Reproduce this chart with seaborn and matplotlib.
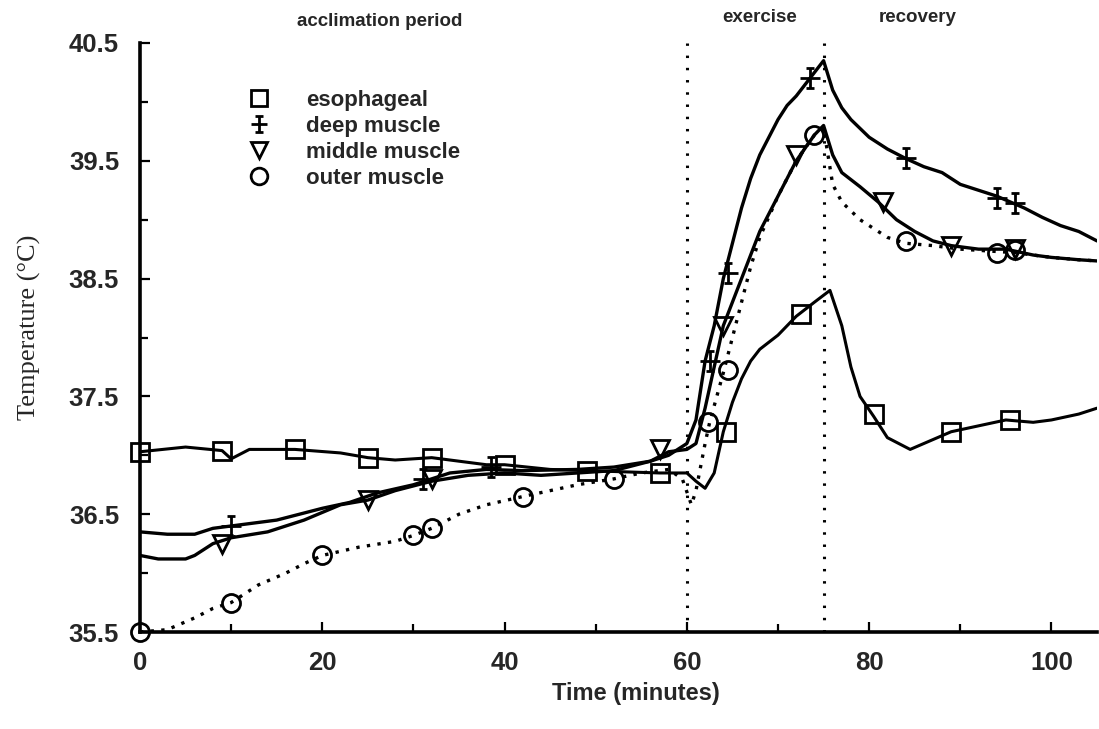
import numpy as np
import pandas as pd
import matplotlib
matplotlib.use("Agg")
import matplotlib.pyplot as plt
from matplotlib.path import Path
from matplotlib.lines import Line2D
import seaborn as sns

# ---------------- data ----------------
eso_t = [0, 5, 9, 10, 12, 17, 22, 25, 28, 32, 35, 38, 40, 45, 49, 53, 57, 60, 61, 62,
         63, 64, 65, 66, 67, 68, 70, 72, 74, 75.7, 77, 78, 79, 80.5, 82, 84.5, 86, 89,
         92, 95, 98, 100, 103, 105]
eso_v = [37.03, 37.07, 37.04, 36.97, 37.05, 37.05, 37.02, 36.98, 36.96, 36.98, 36.95,
         36.92, 36.92, 36.88, 36.87, 36.86, 36.85, 36.85, 36.78, 36.72, 36.85, 37.2,
         37.45, 37.65, 37.8, 37.9, 38.02, 38.18, 38.3, 38.4, 38.1, 37.75, 37.5, 37.33,
         37.15, 37.05, 37.1, 37.2, 37.25, 37.3, 37.28, 37.3, 37.35, 37.4]

deep_t = [0, 3, 6, 8, 10, 12, 15, 20, 23, 26, 30, 34, 38, 42, 48, 52, 56, 58, 60, 61,
          62, 63, 64, 65, 66, 67, 68, 69, 70, 71, 72, 73, 74, 75, 76, 77, 78, 80, 82,
          84, 86, 88, 90, 92, 94, 97, 99, 101, 103, 105]
deep_v = [36.35, 36.33, 36.33, 36.38, 36.4, 36.42, 36.45, 36.55, 36.6, 36.68, 36.75,
          36.85, 36.88, 36.87, 36.88, 36.9, 36.95, 37.0, 37.1, 37.3, 37.8, 38.1, 38.5,
          38.8, 39.1, 39.35, 39.55, 39.7, 39.85, 39.97, 40.05, 40.15, 40.25, 40.35,
          40.1, 39.95, 39.85, 39.7, 39.6, 39.52, 39.45, 39.4, 39.3, 39.25, 39.2, 39.1,
          39.02, 38.95, 38.9, 38.82]

mid_t = [0, 2, 5, 6, 8, 10, 14, 18, 22, 25, 28, 32, 36, 40, 44, 48, 52, 56, 58, 60,
         61, 62, 63, 64, 65, 66, 67, 68, 70, 72, 74, 75, 76, 77, 79, 81, 83, 85, 87,
         89, 92, 95, 98, 100, 103, 105]
mid_v = [36.15, 36.12, 36.12, 36.15, 36.25, 36.3, 36.35, 36.45, 36.58, 36.62, 36.7,
         36.78, 36.83, 36.85, 36.83, 36.85, 36.87, 36.95, 37.03, 37.05, 37.1, 37.4,
         37.75, 38.1, 38.3, 38.5, 38.7, 38.9, 39.2, 39.5, 39.72, 39.8, 39.55, 39.4,
         39.28, 39.15, 39.0, 38.9, 38.82, 38.78, 38.75, 38.75, 38.7, 38.68, 38.66, 38.65]

out_t = [0, 3, 6, 8, 10, 13, 16, 18, 20, 24, 28, 30, 32, 35, 38, 42, 45, 48, 52, 55,
         58, 59.5, 60.5, 61, 62, 62.5, 64, 65, 66, 67, 68, 70, 72, 74, 75, 76, 77, 79,
         82, 84, 87, 90, 94, 96, 100, 103, 105]
out_v = [35.5, 35.52, 35.62, 35.7, 35.75, 35.9, 36.0, 36.08, 36.15, 36.22, 36.27,
         36.32, 36.38, 36.5, 36.58, 36.65, 36.7, 36.75, 36.8, 36.85, 36.88, 36.8, 36.58,
         36.7, 37.1, 37.28, 37.7, 38.0, 38.3, 38.6, 38.85, 39.2, 39.5, 39.72, 39.78,
         39.3, 39.15, 39.0, 38.85, 38.8, 38.78, 38.75, 38.73, 38.72, 38.68, 38.66, 38.65]

# marker positions along each curve
eso_mt = [0, 9, 17, 25, 32, 40, 49, 57, 64.3, 72.5, 80.5, 89, 95.5]
eso_mv = [37.03, 37.04, 37.05, 36.98, 36.98, 36.92, 36.87, 36.85, 37.2, 38.2, 37.35, 37.2, 37.3]
deep_mt = [10, 31, 38.5, 62.5, 64.5, 73.5, 84, 94, 96]
deep_mv = [36.4, 36.8, 36.9, 37.8, 38.55, 40.2, 39.52, 39.18, 39.14]
mid_mt = [9, 25, 32, 57, 64, 72, 81.5, 89, 96]
mid_mv = [36.25, 36.62, 36.8, 37.05, 38.1, 39.55, 39.15, 38.78, 38.75]
out_mt = [0, 10, 20, 30, 32, 42, 52, 62.3, 64.5, 74, 84, 94, 96]
out_mv = [35.5, 35.75, 36.15, 36.32, 36.38, 36.65, 36.8, 37.28, 37.72, 39.72, 38.82, 38.72, 38.74]

series_names = ["esophageal", "deep muscle", "middle muscle", "outer muscle"]
phase_lines = [60, 75]
phase_labels = ["acclimation period", "exercise", "recovery"]
x_ticks = [0, 20, 40, 60, 80, 100]
y_ticks = [35.5, 36.5, 37.5, 38.5, 39.5, 40.5]

# ---------------- styling ----------------
sns.set_theme(style="ticks")
plt.rcParams["font.family"] = ["Liberation Sans", "DejaVu Sans"]

# custom "cross with serifs" marker for deep muscle
cross_path = Path(
    [(-1, 0), (1, 0), (0, -1), (0, 1), (-0.45, 1), (0.45, 1), (-0.45, -1), (0.45, -1)],
    [Path.MOVETO, Path.LINETO, Path.MOVETO, Path.LINETO,
     Path.MOVETO, Path.LINETO, Path.MOVETO, Path.LINETO])

fig = plt.figure(figsize=(10.99, 7.29), dpi=100)
ax = fig.add_axes([140 / 1099, 1 - 632 / 729, (1097 - 140) / 1099, (632 - 43) / 729])

df_eso = pd.DataFrame({"t": eso_t, "v": eso_v})
df_deep = pd.DataFrame({"t": deep_t, "v": deep_v})
df_mid = pd.DataFrame({"t": mid_t, "v": mid_v})
df_out = pd.DataFrame({"t": out_t, "v": out_v})

sns.lineplot(data=df_eso, x="t", y="v", ax=ax, color="black", lw=2.2, sort=False)
sns.lineplot(data=df_deep, x="t", y="v", ax=ax, color="black", lw=2.4, sort=False)
sns.lineplot(data=df_mid, x="t", y="v", ax=ax, color="black", lw=2.4, sort=False)
sns.lineplot(data=df_out, x="t", y="v", ax=ax, color="black", lw=2.4,
             linestyle=(0, (1, 2.2)), sort=False)

mk_kw = dict(color="black", linestyle="none", markerfacecolor="none",
             markeredgecolor="black", markeredgewidth=2.0, clip_on=False, zorder=5)
ax.plot(eso_mt, eso_mv, marker="s", markersize=13, **mk_kw)
ax.plot(deep_mt, deep_mv, marker=cross_path, markersize=14, **mk_kw)
ax.plot(mid_mt, mid_mv, marker="v", markersize=13, **mk_kw)
ax.plot(out_mt, out_mv, marker="o", markersize=13, **mk_kw)

for xv in phase_lines:
    ax.axvline(xv, color="black", lw=2.2, linestyle=(0, (0.8, 3.2)), zorder=1)

ax.set_xlim(0, 105)
ax.set_ylim(35.5, 40.5)
ax.set_xticks(x_ticks)
ax.set_xticks([10, 30, 50, 70, 90], minor=True)
ax.set_yticks(y_ticks)
ax.set_yticks([36.0, 37.0, 38.0, 39.0, 40.0], minor=True)
ax.set_xticklabels([str(v) for v in x_ticks])
ax.set_yticklabels([f"{v:.1f}" for v in y_ticks])
ax.tick_params(axis="both", which="both", direction="in", width=1.6, color="black",
               labelsize=18.5)
ax.tick_params(axis="y", pad=15)
ax.tick_params(axis="x", pad=14)
ax.tick_params(which="major", length=7)
ax.tick_params(which="minor", length=6)
for lab in ax.get_xticklabels() + ax.get_yticklabels():
    lab.set_fontweight("bold")
for side in ["top", "right"]:
    ax.spines[side].set_visible(False)
for side in ["left", "bottom"]:
    ax.spines[side].set_linewidth(2.6)
    ax.spines[side].set_color("black")

ax.set_xlabel("Time (minutes)", fontsize=17, fontweight="bold")
ax.xaxis.set_label_coords((636 - 140) / 957, -0.085)
ax.set_ylabel("Temperature (°C)", fontsize=19, family=["Liberation Serif", "DejaVu Serif"])
ax.yaxis.set_label_coords(-0.103, (632 - 327) / 589)

# phase labels above the plot
fig.text(380 / 1099, 1 - 22 / 729, phase_labels[0], ha="center", va="center",
         fontsize=13.5, fontweight="bold")
fig.text(760 / 1099, 1 - 17 / 729, phase_labels[1], ha="center", va="center",
         fontsize=13.5, fontweight="bold")
fig.text(918 / 1099, 1 - 17 / 729, phase_labels[2], ha="center", va="center",
         fontsize=13.5, fontweight="bold")

# legend (markers only)
handles = [
    Line2D([], [], marker="s", markersize=12, **mk_kw),
    Line2D([], [], marker=cross_path, markersize=12, **mk_kw),
    Line2D([], [], marker="v", markersize=12, **mk_kw),
    Line2D([], [], marker="o", markersize=12, **mk_kw),
]
leg = fig.legend(handles, series_names, loc="upper left",
                 bbox_to_anchor=(228 / 1099, 1 - 70 / 729), frameon=False,
                 handlelength=1.0, handletextpad=1.6, labelspacing=0.22,
                 prop={"size": 16, "weight": "bold"})

fig.savefig("out.png", dpi=100)
